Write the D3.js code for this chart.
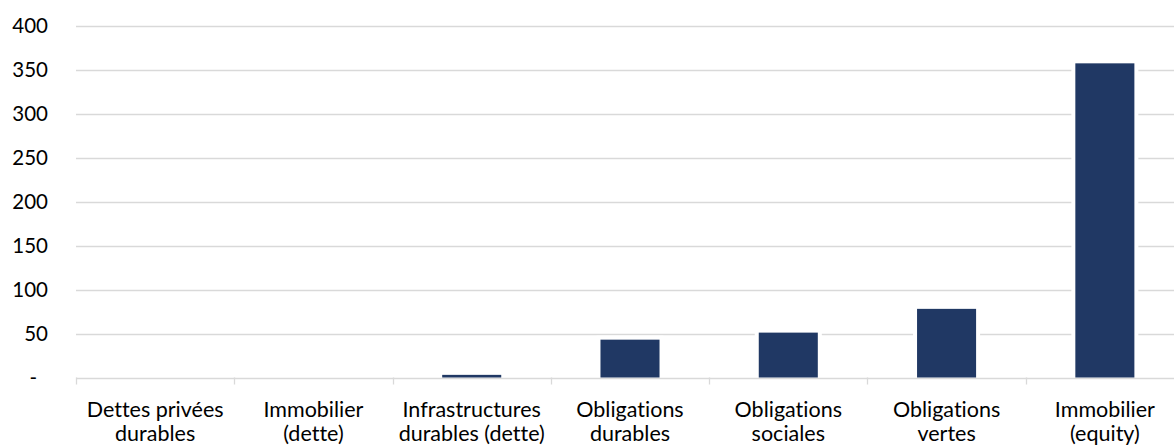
<!DOCTYPE html>
<html>
<head>
<meta charset="utf-8">
<script src="https://cdn.jsdelivr.net/npm/d3@7"></script>
<style>
  html, body { margin: 0; padding: 0; background: #fff; }
  svg { display: block; }
  text { font-family: Lato, "Open Sans", sans-serif; fill: #000; font-variant-ligatures: none; font-feature-settings: "liga" 0; }
</style>
</head>
<body>
<svg id="chart" width="1174" height="446"></svg>
<script>
const categories = [
  ["Dettes privées", "durables"],
  ["Immobilier", "(dette)"],
  ["Infrastructures", "durables (dette)"],
  ["Obligations", "durables"],
  ["Obligations", "sociales"],
  ["Obligations", "vertes"],
  ["Immobilier", "(equity)"]
];
const values = [0, 0, 3, 43, 51, 78, 357];
const yTicks = [0, 50, 100, 150, 200, 250, 300, 350, 400];

const svg = d3.select("#chart");
const mLeft = 76, mRight = 1184, mTop = 25.5, mBottom = 377.5;

const keys = categories.map(c => c.join(" "));
const x = d3.scaleBand().domain(keys).range([mLeft, mRight]).padding(0);
const y = d3.scaleLinear().domain([0, 400]).range([mBottom, mTop]);

// gridlines
svg.append("g").selectAll("line").data(yTicks).join("line")
  .attr("x1", mLeft).attr("x2", 1174)
  .attr("y1", d => Math.round(y(d)) + 0.5).attr("y2", d => Math.round(y(d)) + 0.5)
  .attr("stroke", "#d9d9d9").attr("stroke-width", 1.3);

// y labels
svg.append("g").selectAll("text").data(yTicks).join("text")
  .attr("x", d => d === 0 ? 37 : 48)
  .attr("y", d => y(d))
  .attr("dy", "0.35em")
  .attr("text-anchor", "end")
  .attr("font-size", 20.5)
  .text(d => d === 0 ? "-" : d3.format("d")(d));

// category tick marks
const boundaries = keys.map(k => x(k));
svg.append("g").selectAll("line").data(boundaries).join("line")
  .attr("x1", d => Math.round(d) + 0.5).attr("x2", d => Math.round(d) + 0.5)
  .attr("y1", mBottom).attr("y2", mBottom + 7)
  .attr("stroke", "#d9d9d9").attr("stroke-width", 1.3);

// bars
const bw = x.bandwidth() * 0.373;
const barG = svg.append("g");
const data = keys.map((k, i) => ({k, v: values[i]}));
barG.selectAll("rect.gap").data(data.filter(d => d.v > 0)).join("rect")
  .attr("class", "gap")
  .attr("x", d => x(d.k) + x.bandwidth() / 2 - bw / 2 - 4)
  .attr("width", bw + 8)
  .attr("y", d => y(d.v) - 4)
  .attr("height", d => mBottom - y(d.v) + 2)
  .attr("fill", "#fff");
barG.selectAll("rect.bar").data(data.filter(d => d.v > 0)).join("rect")
  .attr("class", "bar")
  .attr("x", d => x(d.k) + x.bandwidth() / 2 - bw / 2)
  .attr("width", bw)
  .attr("y", d => y(d.v))
  .attr("height", d => mBottom - y(d.v))
  .attr("fill", "#203864");

// x labels
const xl = svg.append("g").selectAll("text").data(categories).join("text")
  .attr("text-anchor", "middle")
  .attr("font-size", 21.5)
  .attr("transform", (d, i) => `translate(${x(keys[i]) + x.bandwidth() / 2},0)`);
xl.selectAll("tspan").data(d => d).join("tspan")
  .attr("x", 0)
  .attr("y", (d, j) => 417 + j * 24)
  .text(d => d);
</script>
</body>
</html>
